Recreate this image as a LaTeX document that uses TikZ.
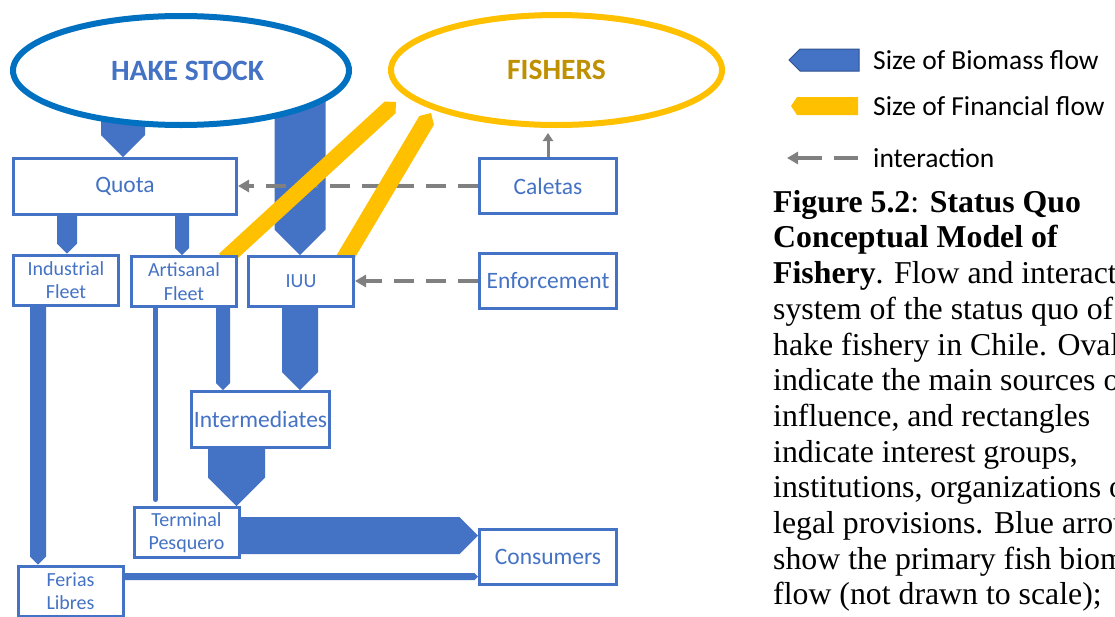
\documentclass[tikz,border=0pt]{standalone}
\usepackage{fontspec}
\setmainfont{Liberation Serif}
\setsansfont{Carlito}
\usetikzlibrary{shapes.geometric,arrows.meta,calc,backgrounds}

\definecolor{bioblue}{HTML}{4472C4}
\definecolor{bioedge}{HTML}{2F528F}
\definecolor{stockblue}{HTML}{0070C0}
\definecolor{fingold}{HTML}{FFC000}
\definecolor{fishtext}{HTML}{BF9000}
\definecolor{intergrey}{HTML}{808080}

\newcommand{\boxfont}{\sffamily\fontsize{23.5}{26}\selectfont}
\newcommand{\smallboxfont}{\sffamily\fontsize{20}{23.5}\selectfont}
\newcommand{\ovalfont}{\sffamily\bfseries\fontsize{29.5}{32}\selectfont}
\newcommand{\legendfont}{\sffamily\fontsize{27.5}{30}\selectfont}
\newcommand{\captionfont}{\rmfamily\fontsize{31.8}{35.7}\selectfont}

\tikzstyle{box}=[draw=bioblue,line width=3pt,fill=white,text=bioblue,inner sep=0pt,align=center]
\tikzstyle{widebox}=[box,font=\boxfont,minimum width=137pt,minimum height=55pt]
\tikzstyle{fleetbox}=[box,font=\smallboxfont,minimum width=105pt,minimum height=50pt]
\tikzstyle{oval}=[ellipse,line width=6pt,fill=white,inner sep=0pt,font=\ovalfont]
\tikzstyle{biomass}=[fill=bioblue]
\tikzstyle{financial}=[fill=fingold]
\tikzstyle{interaction}=[draw=intergrey,line width=4pt,dash pattern=on 20pt off 12pt,-{Triangle[length=11pt,width=12pt]}]
\tikzstyle{legendtext}=[anchor=west,inner sep=0pt,font=\legendfont]

% vertical biomass flow: source point, target node, x shift at target, width
\newcommand{\bioflow}[4]{%
  \fill[biomass] let \p1=(#1), \p2=([xshift=#3]#2.north) in
    (\x2-#4/2,\y1) -- (\x2-#4/2,\y2+#4/2) -- (\p2) -- (\x2+#4/2,\y2+#4/2) -- (\x2+#4/2,\y1) -- cycle;}
% horizontal biomass flow: source node, target node, y shift at target, width
\newcommand{\hbioflow}[4]{%
  \fill[biomass] let \p1=(#1.east), \p2=([yshift=#3]#2.west) in
    (\x1,\y2+#4/2) -- (\x2-#4/2,\y2+#4/2) -- (\p2) -- (\x2-#4/2,\y2-#4/2) -- (\x1,\y2-#4/2) -- cycle;}
% financial flow: source point, tip point, half width
\newcommand{\finflow}[3]{%
  \fill[financial] let \p1=(#1), \p2=(#2), \n1={atan2((\y2)-(\y1),(\x2)-(\x1))} in
    ($(\p1)+(\n1+90:#3)$) -- ($(\p2)+(\n1+180:#3)+(\n1+90:#3)$) -- (\p2)
    -- ($(\p2)+(\n1+180:#3)+(\n1-90:#3)$) -- ($(\p1)+(\n1-90:#3)$) -- cycle;}

\begin{document}
\begin{tikzpicture}[x=1pt,y=-1pt]
    \useasboundingbox (0,0) rectangle (1115,616);
    % Sources of influence
    \node[oval,draw=stockblue,text=bioblue,minimum width=336pt,minimum height=109pt] (hake) at (181,70.5) {\hspace*{13pt}HAKE STOCK};
    \node[oval,draw=fingold,text=fishtext,minimum width=331pt,minimum height=110pt] (fishers) at (556.5,70) {FISHERS};
    % Interest groups and institutions
    \node[box,font=\boxfont,minimum width=223pt,minimum height=56pt] (quota) at (125,186.5) {Quota};
    \node[box,font=\boxfont,minimum width=138pt,minimum height=56pt] (intermediates) at (260.5,419.5) {Intermediates};
    \foreach \pos/\name/\txt in {{(548,186)/caletas/Caletas}, {(548,281)/enforcement/Enforcement}, {(548,557)/consumers/Consumers}}
        \node[widebox] (\name) at \pos {\txt};
    \foreach \pos/\name/\txt in {{(66,280)/industrial/Industrial\\Fleet}, {(184,281.5)/artisanal/Artisanal\\Fleet},
                                 {(301,281.5)/iuu/IUU}, {(186.5,532.5)/terminal/Terminal\\Pesquero}, {(70.5,591)/ferias/Ferias\\Libres}}
        \node[fleetbox] (\name) at \pos {\txt};
    \coordinate (artend) at ([xshift=-31pt,yshift=6.5pt]terminal.north);
    \coordinate (fintipA) at (396,102);
    \coordinate (fintipB) at (431,113);

    \begin{pgfonlayer}{background}
        \fill[white] (0,0) rectangle (1115,616);
        % Biomass flows
        \foreach \src/\dest/\dx/\w in {hake.center/quota/-2pt/44pt, hake.center/iuu/-1pt/51pt,
                quota.south/industrial/1pt/20pt, quota.south/artisanal/-2pt/14pt,
                industrial.south/ferias/-32.5pt/16pt, artisanal.south/intermediates/-37.5pt/14pt,
                iuu.south/intermediates/39.5pt/36pt, intermediates.south/terminal/50pt/57pt}
            \bioflow{\src}{\dest}{\dx}{\w};
        \draw[bioblue,line width=5pt,line cap=round] (artisanal.south -| artend) -- (artend);
        \hbioflow{terminal}{consumers}{21.5pt}{37pt};
        \hbioflow{ferias}{consumers}{-19.5pt}{7pt};
        % Interactions
        \draw[interaction] (caletas.west) -- (caletas.west -| quota.east);
        \draw[interaction] (enforcement.west) -- (enforcement.west -| iuu.east);
        % Financial flows
        \finflow{[xshift=-13.5pt,yshift=-4.5pt]artisanal.north east}{fintipA}{8pt};
        \finflow{[xshift=-11.6pt,yshift=-5.4pt]iuu.north east}{fintipB}{8.5pt};
    \end{pgfonlayer}
    \draw[intergrey,line width=3pt,-{Triangle[length=8pt,width=10pt]},shorten >=5pt] (caletas.north) -- (caletas.north |- fishers.south);

    % Legend
    \node[legendtext] (legbio) at (873,60) {Size of Biomass flow};
    \node[legendtext] (legfin) at (873,106) {Size of Financial flow};
    \node[legendtext] (leginter) at (873,158) {interaction};
    \fill[biomass,draw=bioedge,line width=1pt] ([xshift=-14pt,yshift=11pt]legbio.west) -- ([xshift=-73pt,yshift=11pt]legbio.west)
        -- ([xshift=-84pt]legbio.west) -- ([xshift=-73pt,yshift=-11pt]legbio.west) -- ([xshift=-14pt,yshift=-11pt]legbio.west) -- cycle;
    \fill[financial] ([xshift=-15pt,yshift=9pt]legfin.west) -- ([xshift=-76pt,yshift=9pt]legfin.west)
        -- ([xshift=-82pt]legfin.west) -- ([xshift=-76pt,yshift=-9pt]legfin.west) -- ([xshift=-15pt,yshift=-9pt]legfin.west) -- cycle;
    \draw[interaction,dash pattern=on 24pt off 12pt] ([xshift=-15pt]leginter.west) -- ([xshift=-86pt]leginter.west);

    % Caption
    \node[anchor=north west,inner sep=0pt,align=left,font=\captionfont] (caption) at (773,190)
        {\textbf{Figure 5.2}: \textbf{Status Quo}\\ \textbf{Conceptual Model of}\\ \textbf{Fishery}. Flow and interact\\
         system of the status quo of\\ hake fishery in Chile. Oval\\ indicate the main sources o\\ influence, and rectangles\\
         indicate interest groups,\\ institutions, organizations o\\ legal provisions. Blue arrow\\ show the primary fish biom\\
         flow (not drawn to scale);};
\end{tikzpicture}
\end{document}
